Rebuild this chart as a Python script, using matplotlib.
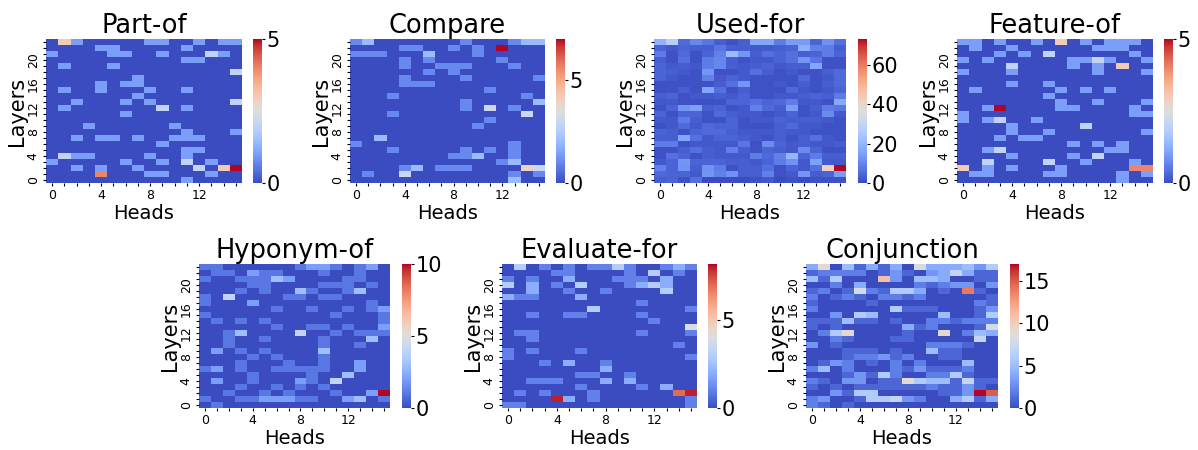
import numpy as np
import matplotlib
matplotlib.use("Agg")
import matplotlib.pyplot as plt

W, H = 1198, 450

# rows are listed top to bottom (layer 23 first)
part_of = [
    [0,3,1,0,0,0,0,0,1,1,0,0,1,0,1,1],
    [0,0,0,0,1,1,0,0,0,0,0,1,0,0,0,0],
    [1,0,0,0,0,1,1,0,0,1,0,0,0,2,1,0],
    [0,0,0,0,0,0,0,0,0,0,0,1,1,0,0,0],
    [0,1,0,0,0,1,0,0,0,0,0,0,0,0,0,0],
    [0,0,0,0,0,0,0,0,0,0,0,0,0,0,0,2],
    [0,0,0,0,0,0,0,1,0,0,0,0,0,0,0,0],
    [0,0,0,0,1,0,1,1,0,0,0,0,0,0,0,0],
    [0,1,0,0,1,0,0,0,1,0,0,1,0,0,0,0],
    [0,0,0,0,0,0,0,1,0,0,0,0,0,0,0,0],
    [0,0,1,0,0,0,1,0,1,0,0,0,0,0,0,2],
    [0,1,0,0,0,0,0,0,0,2,0,1,0,0,0,0],
    [0,0,0,0,0,0,1,0,0,0,0,0,0,0,0,0],
    [0,0,0,0,0,0,0,0,0,0,0,0,0,0,0,0],
    [0,0,0,1,0,0,0,0,0,0,1,0,0,0,0,0],
    [0,0,0,0,0,0,0,0,0,0,0,1,0,0,0,1],
    [0,0,1,0,1,1,0,1,0,0,1,1,1,0,0,0],
    [0,0,0,0,0,0,0,0,0,1,0,0,0,0,0,0],
    [0,0,0,0,0,0,0,0,0,0,0,1,1,0,0,0],
    [0,2,1,1,0,0,0,0,1,0,0,1,0,0,0,0],
    [1,0,0,0,0,0,1,0,0,1,0,2,0,1,0,0],
    [0,0,1,0,1,0,0,1,0,0,0,0,2,0,3,5],
    [0,0,0,0,4,0,0,0,1,1,0,0,0,1,0,0],
    [0,0,0,0,0,0,0,0,0,0,0,1,0,0,0,0],
]
compare = [
    [1,2,0,0,0,0,0,0,0,1,0,0,0,1,2,2],
    [0,0,0,0,1,1,0,0,1,0,1,0,7,0,0,0],
    [1,1,1,0,0,0,2,0,0,0,1,0,0,0,0,0],
    [0,0,0,0,1,0,1,0,0,0,0,0,1,0,0,0],
    [0,0,0,0,1,0,0,1,1,1,0,0,0,1,0,0],
    [0,0,0,0,0,0,1,0,1,0,0,0,0,0,0,0],
    [0,0,0,0,1,0,0,0,0,1,0,0,0,0,0,1],
    [0,0,0,0,1,1,1,0,0,0,0,0,0,0,0,0],
    [0,0,0,0,0,0,0,0,0,0,0,1,0,0,0,0],
    [0,0,0,1,0,0,0,0,0,0,0,0,0,0,1,0],
    [0,0,0,0,0,0,0,0,0,1,0,0,0,0,0,2],
    [0,0,0,0,0,0,0,0,0,1,0,3,0,1,0,0],
    [0,0,0,1,0,0,0,0,0,0,0,0,0,0,3,0],
    [0,0,0,0,0,0,0,0,0,0,0,1,0,0,0,0],
    [0,0,0,0,0,0,0,0,0,0,1,0,0,0,0,0],
    [0,0,0,0,0,0,0,0,0,0,0,0,0,0,0,0],
    [0,0,2,0,0,0,0,0,0,0,0,0,0,0,0,0],
    [1,0,0,0,0,0,0,0,0,0,0,0,0,1,0,0],
    [0,0,0,1,0,0,0,0,0,1,0,1,0,1,0,0],
    [0,0,0,0,0,0,0,0,1,1,2,0,0,1,0,0],
    [0,0,0,0,0,0,0,0,0,0,0,0,1,2,0,0],
    [0,0,0,0,1,2,0,1,1,1,0,0,0,0,4,3],
    [0,1,0,0,3,0,0,0,0,0,0,0,0,1,0,1],
    [0,0,0,0,0,0,0,0,0,0,0,0,0,2,0,0],
]
used_for = [
    [19,27,5,10,7,3,1,3,16,16,8,14,14,4,12,6],
    [4,2,4,3,3,7,3,3,2,2,3,4,18,9,8,3],
    [8,1,5,1,4,9,21,13,3,6,4,6,3,4,8,4],
    [3,1,6,1,8,10,3,1,2,2,4,6,13,7,1,1],
    [4,2,3,2,8,10,3,2,3,4,2,3,3,16,1,1],
    [4,3,2,1,13,1,1,2,6,3,1,2,1,1,3,5],
    [4,2,1,1,9,2,4,2,1,1,1,1,5,1,2,5],
    [1,1,1,1,1,3,6,13,1,1,2,1,3,1,3,5],
    [1,1,3,1,16,6,1,3,1,1,1,5,2,1,2,4],
    [3,4,1,2,2,3,2,4,1,1,2,2,3,4,3,8],
    [2,2,1,1,1,1,4,4,6,4,5,8,2,2,1,17],
    [1,4,13,15,3,4,1,2,9,5,3,14,1,3,8,7],
    [4,1,4,4,1,5,3,2,2,1,2,4,1,2,11,2],
    [2,2,8,3,1,1,4,1,2,2,4,3,3,3,2,1],
    [1,2,5,2,5,4,4,1,1,1,3,5,2,2,1,1],
    [4,3,1,4,5,5,3,2,2,2,3,2,2,1,1,1],
    [3,3,16,6,2,4,4,3,2,1,3,1,3,6,2,1],
    [8,8,1,2,2,2,2,7,1,11,4,2,3,2,2,3],
    [1,1,3,6,3,2,9,3,1,4,3,2,11,4,1,1],
    [1,6,4,1,3,2,2,2,8,5,9,20,4,8,3,3],
    [2,4,13,4,4,4,3,3,2,4,8,12,2,15,2,2],
    [9,4,12,3,12,8,1,3,3,6,1,4,2,6,42,73],
    [5,4,4,2,13,9,12,3,3,9,1,2,13,3,4,14],
    [3,4,1,6,0,0,0,0,1,2,0,1,0,1,1,1],
]
feature_of = [
    [1,1,0,1,0,0,1,0,3,0,1,0,1,1,1,0],
    [0,1,0,0,1,0,0,0,0,0,0,1,1,1,0,0],
    [0,0,0,1,0,1,0,2,0,0,0,0,0,0,1,0],
    [1,0,1,0,0,0,0,0,0,1,1,2,1,0,0,1],
    [0,0,0,0,2,0,0,0,0,1,0,1,0,3,0,0],
    [1,0,0,0,1,0,0,0,0,0,0,1,0,0,0,1],
    [0,0,0,0,0,0,0,0,0,0,0,0,0,0,0,0],
    [0,0,0,0,1,0,0,1,0,0,0,0,0,0,0,0],
    [0,1,0,0,0,0,0,0,1,0,1,0,1,0,0,0],
    [0,0,0,0,0,0,0,1,0,0,0,0,0,0,0,0],
    [0,0,0,0,0,0,0,0,1,0,0,1,0,0,0,1],
    [0,0,1,5,0,0,0,0,1,1,0,0,0,0,1,0],
    [1,0,0,0,0,0,0,0,0,0,0,0,0,0,1,1],
    [1,0,1,2,0,0,1,0,0,0,0,0,0,0,0,0],
    [0,0,0,0,1,0,0,0,0,0,2,0,0,0,0,0],
    [0,0,0,0,1,0,0,1,0,0,0,0,0,0,0,1],
    [0,0,0,1,0,1,1,0,0,0,0,0,0,0,0,0],
    [0,0,0,0,0,0,0,0,0,1,0,1,0,1,0,0],
    [0,0,1,2,0,0,0,0,0,0,0,0,1,1,0,0],
    [0,0,0,0,1,0,0,0,0,1,0,2,0,0,0,0],
    [0,0,2,0,0,0,0,2,0,0,1,0,0,0,1,0],
    [3,0,1,0,1,0,0,0,1,0,0,0,0,0,4,4],
    [0,1,1,0,0,0,0,1,1,0,0,0,0,1,0,1],
    [0,0,0,0,0,0,0,0,0,0,0,0,0,1,0,0],
]
hyponym_of = [
    [1,1,0,0,0,0,0,0,1,2,2,1,0,1,2,0],
    [0,1,1,0,2,1,1,0,0,0,1,0,0,1,0,0],
    [1,0,0,1,1,1,3,2,0,0,0,0,1,1,0,0],
    [0,0,0,0,1,1,0,0,0,0,1,1,1,0,1,0],
    [0,0,0,1,0,1,0,0,3,1,0,0,1,3,0,0],
    [1,0,4,0,0,0,0,1,1,0,1,1,0,0,0,0],
    [1,0,0,0,2,0,0,0,0,0,0,0,0,0,1,0],
    [0,0,0,0,0,0,1,0,0,1,0,0,1,0,1,2],
    [1,0,0,0,0,0,0,0,0,0,0,1,0,0,0,1],
    [0,1,0,1,0,1,0,0,0,0,0,0,0,0,0,1],
    [0,0,0,0,0,0,1,0,0,1,1,0,1,0,0,2],
    [0,0,1,3,0,0,0,0,4,0,0,1,0,1,1,1],
    [0,0,1,0,0,1,0,0,0,0,1,0,0,0,3,0],
    [0,0,1,0,0,0,0,0,0,0,1,0,0,1,0,0],
    [0,2,0,1,0,1,0,0,0,0,3,0,0,0,0,0],
    [0,0,0,0,1,0,1,0,0,0,1,0,0,0,0,0],
    [0,0,0,1,0,0,0,1,0,0,1,0,0,2,0,0],
    [1,2,0,1,0,0,1,1,1,1,1,0,0,2,0,0],
    [0,0,0,0,1,0,0,0,0,1,0,0,3,0,0,0],
    [0,2,0,0,1,0,0,0,2,1,0,4,0,0,0,0],
    [0,0,0,1,0,0,1,0,1,0,1,0,0,0,0,0],
    [0,0,1,0,0,1,0,1,0,0,0,1,0,0,2,10],
    [1,0,0,1,1,2,2,2,1,1,0,0,2,3,0,1],
    [0,1,0,0,0,0,0,0,0,0,0,0,0,0,0,0],
]
evaluate_for = [
    [0,3,0,1,0,1,0,1,1,3,1,0,0,1,2,1],
    [0,0,0,0,1,1,0,0,0,0,1,0,3,0,1,0],
    [1,0,1,0,0,2,0,0,0,1,1,1,0,2,0,0],
    [3,0,2,0,1,0,3,0,0,0,1,2,3,2,0,0],
    [0,0,2,0,0,1,0,0,1,0,0,0,0,3,0,0],
    [2,1,1,0,0,0,2,0,0,0,0,0,0,0,0,0],
    [0,0,0,0,0,0,0,0,0,0,0,1,0,0,0,0],
    [0,0,0,0,0,0,0,3,0,0,0,0,0,0,0,1],
    [0,0,1,0,0,1,1,0,0,0,0,1,0,0,0,0],
    [0,0,0,0,0,0,0,0,0,0,0,0,1,0,0,0],
    [0,0,0,0,0,0,0,0,0,0,0,0,0,0,0,4],
    [0,1,1,0,0,0,0,0,0,0,0,1,0,0,0,1],
    [0,0,1,0,0,0,0,0,0,0,0,0,0,0,0,0],
    [0,0,0,0,0,0,0,0,0,0,0,0,0,0,1,0],
    [1,0,1,0,0,0,1,0,0,0,0,0,0,0,0,0],
    [1,0,0,0,0,0,0,0,0,0,0,0,0,0,0,1],
    [0,0,0,1,0,2,0,0,1,0,0,0,0,0,0,0],
    [0,0,0,0,0,0,0,0,2,0,0,0,0,0,0,0],
    [0,0,0,0,0,0,1,1,0,0,1,0,0,0,0,0],
    [0,0,1,1,1,0,0,0,2,0,2,0,0,0,0,0],
    [0,0,0,0,0,0,1,0,0,0,0,1,0,2,0,0],
    [0,1,0,1,0,0,0,1,0,0,0,0,0,0,7,8],
    [0,0,0,0,8,2,0,1,0,0,0,0,0,0,0,1],
    [1,1,0,0,0,0,0,0,0,0,0,0,0,0,0,1],
]
conjunction = [
    [4,9,0,5,1,4,1,4,0,8,4,4,4,5,3,6],
    [1,2,2,2,2,0,1,3,1,0,3,4,7,4,1,1],
    [5,1,6,0,0,0,11,3,0,5,5,4,0,0,1,1],
    [0,0,2,0,4,0,0,0,0,2,1,2,3,3,0,3],
    [1,2,0,1,8,2,1,6,6,4,0,1,0,14,1,0],
    [2,0,1,2,1,0,2,2,1,2,0,0,0,0,0,1],
    [1,0,0,0,0,1,0,0,0,0,0,0,0,0,2,1],
    [2,0,0,0,0,0,0,6,1,1,1,0,0,0,1,3],
    [0,0,3,0,6,5,0,0,0,0,0,5,0,0,1,6],
    [1,1,1,5,1,1,0,1,0,0,2,2,1,2,2,2],
    [1,0,1,0,0,0,0,0,4,1,2,0,0,0,1,8],
    [0,2,6,9,0,0,0,0,1,0,0,9,0,2,5,4],
    [0,0,2,1,0,0,0,1,1,0,0,0,0,0,7,0],
    [3,0,1,0,0,0,0,0,0,0,2,2,2,1,0,0],
    [0,0,0,1,1,1,0,1,0,0,5,1,1,0,0,0],
    [0,0,0,1,2,2,3,1,2,0,0,1,1,0,0,0],
    [0,1,3,2,0,1,0,2,0,2,0,0,0,5,0,0],
    [2,5,0,2,0,0,0,2,1,3,1,1,1,2,0,0],
    [0,0,0,1,3,1,6,2,0,0,2,2,6,1,0,0],
    [2,1,0,3,3,0,1,1,9,6,5,5,1,7,1,1],
    [1,0,1,0,1,1,1,1,1,1,2,1,1,3,1,0],
    [0,0,3,1,6,6,0,0,0,0,0,1,1,3,17,15],
    [2,3,0,0,1,6,6,7,3,2,0,0,4,6,1,4],
    [2,1,0,1,0,0,0,0,0,0,0,0,0,0,0,0],
]

titles = ["Part-of", "Compare", "Used-for", "Feature-of", "Hyponym-of", "Evaluate-for", "Conjunction"]
matrices = [part_of, compare, used_for, feature_of, hyponym_of, evaluate_for, conjunction]
vmaxes = [5, 7, 73, 5, 10, 8.2, 17]
cbar_ticks = [[0, 5], [0, 5], [0, 20, 40, 60], [0, 5], [0, 5, 10], [0, 5], [0, 5, 10, 15]]

# left, right, top, bottom of each heatmap in pixels, then left of its colorbar
boxes = [
    (46, 242, 39, 183, 253),
    (350, 545, 39, 183, 556),
    (654, 846, 39, 183, 858),
    (957, 1153, 39, 183, 1164),
    (199, 390, 264, 408, 402),
    (502, 697, 264, 408, 708),
    (806, 998, 264, 408, 1010),
]


def px_axes(fig, left, right, top, bottom):
    return fig.add_axes([left / W, 1 - bottom / H, (right - left) / W, (bottom - top) / H])


fig = plt.figure(figsize=(W / 100, H / 100), dpi=100)

for title, rows, vmax, cticks, box in zip(titles, matrices, vmaxes, cbar_ticks, boxes):
    left, right, top, bottom, cleft = box
    data = np.array(rows)[::-1]
    ax = px_axes(fig, left, right, top, bottom)
    mesh = ax.pcolormesh(data, cmap="coolwarm", vmin=0, vmax=vmax)
    ax.set_title(title, fontsize=18.5, pad=3)
    ax.set_xlabel("Heads", fontsize=14, labelpad=1)
    ax.set_ylabel("Layers", fontsize=15, labelpad=0)
    ax.set_xticks(np.arange(0, 16, 4) + 0.5)
    ax.set_xticklabels(range(0, 16, 4), fontsize=9)
    ax.set_yticks(np.arange(0, 24, 4) + 0.5)
    ax.set_yticklabels(range(0, 24, 4), fontsize=9, rotation=90, va="center")
    ax.set_xticks(np.arange(16) + 0.5, minor=True)
    ax.set_yticks(np.arange(24) + 0.5, minor=True)
    ax.tick_params(which="both", length=2.5, width=0.8, pad=2)
    for spine in ax.spines.values():
        spine.set_visible(False)

    cax = px_axes(fig, cleft, cleft + 9, top, bottom)
    cbar = fig.colorbar(mesh, cax=cax)
    cbar.set_ticks(cticks)
    cbar.ax.tick_params(labelsize=15, length=2.5, width=0.8, pad=1)
    cbar.outline.set_visible(False)

fig.savefig("out.png", dpi=100)
